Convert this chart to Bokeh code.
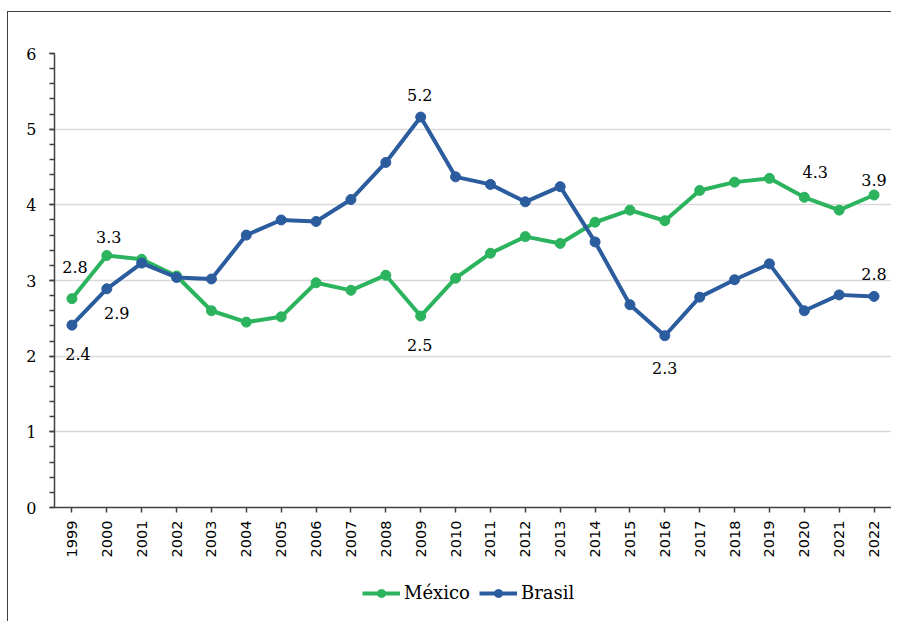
from math import pi
from bokeh.plotting import figure
from bokeh.layouts import column
from bokeh.models import (ColumnDataSource, Range1d, SingleIntervalTicker, Legend,
                          LegendItem)
from bokeh.core.properties import value
from bokeh.embed import file_html
from bokeh.resources import INLINE

# ---- data ----
years = ["1999", "2000", "2001", "2002", "2003", "2004", "2005", "2006", "2007", "2008",
         "2009", "2010", "2011", "2012", "2013", "2014", "2015", "2016", "2017", "2018",
         "2019", "2020", "2021", "2022"]
mexico = [2.76, 3.33, 3.28, 3.06, 2.60, 2.45, 2.52, 2.97, 2.87, 3.07, 2.53, 3.03,
          3.36, 3.58, 3.49, 3.77, 3.93, 3.79, 4.19, 4.30, 4.35, 4.10, 3.93, 4.13]
brasil = [2.41, 2.89, 3.23, 3.04, 3.02, 3.60, 3.80, 3.78, 4.07, 4.56, 5.16, 4.37,
          4.27, 4.04, 4.24, 3.51, 2.68, 2.27, 2.78, 3.01, 3.22, 2.60, 2.81, 2.79]

mx_label_years = ["1999", "2000", "2009", "2020", "2022"]
mx_label_text = ["2.8", "3.3", "2.5", "4.3", "3.9"]
br_label_years = ["1999", "2000", "2009", "2016", "2022"]
br_label_text = ["2.4", "2.9", "5.2", "2.3", "2.8"]

# label pixel offsets (styling)
mx_dx = [3, 2, -1, 11, 0]
mx_dy = [-32, -19, 29, -25, -15]
br_dx = [6, 10, -1, 0, 0]
br_dy = [29, 24, -22, 32, -22]

GREEN = "#2BB35E"
BLUE = "#2B5C9E"
SERIF = "DejaVu Serif"

p = figure(x_range=years, y_range=Range1d(0, 6), width=883, height=555,
           output_backend="svg", toolbar_location=None,
           min_border_left=46, min_border_right=0, min_border_top=41,
           min_border_bottom=60)
p.outline_line_color = None
p.background_fill_color = "white"
p.border_fill_color = "white"

# grid
p.xgrid.grid_line_color = None
p.ygrid.grid_line_color = "#d9d9d9"
p.ygrid.grid_line_width = 1.5

# y axis
p.yaxis.ticker = SingleIntervalTicker(interval=1, num_minor_ticks=5)
p.yaxis.axis_line_color = "#404040"
p.yaxis.axis_line_width = 1.5
p.yaxis.major_tick_line_color = "#404040"
p.yaxis.minor_tick_line_color = "#404040"
p.yaxis.major_tick_line_width = 1.5
p.yaxis.minor_tick_line_width = 1.5
p.yaxis.major_tick_in = 0
p.yaxis.major_tick_out = 5
p.yaxis.minor_tick_in = 0
p.yaxis.minor_tick_out = 5
p.yaxis.major_label_standoff = 13
p.yaxis.major_label_text_font = SERIF
p.yaxis.major_label_text_font_size = "16px"
p.yaxis.major_label_text_color = "black"

# x axis
p.xaxis.axis_line_color = "#404040"
p.xaxis.axis_line_width = 1.5
p.xaxis.major_tick_line_color = "#404040"
p.xaxis.major_tick_line_width = 1.5
p.xaxis.major_tick_in = 0
p.xaxis.major_tick_out = 5
p.xaxis.minor_tick_line_color = None
p.xaxis.major_label_orientation = pi / 2
p.xaxis.major_label_standoff = 8
p.xaxis.major_label_text_font = "DejaVu Sans"
p.xaxis.major_label_text_font_size = "14.5px"
p.xaxis.major_label_text_color = "black"

# series
mx_line = p.line(years, mexico, line_color=GREEN, line_width=4)
mx_pts = p.scatter(years, mexico, size=10, fill_color=GREEN, line_color=GREEN)
br_line = p.line(years, brasil, line_color=BLUE, line_width=4)
br_pts = p.scatter(years, brasil, size=10, fill_color=BLUE, line_color=BLUE)

# data labels
mx_lookup = dict(zip(years, mexico))
br_lookup = dict(zip(years, brasil))
lab_src = ColumnDataSource(dict(
    x=mx_label_years + br_label_years,
    y=[mx_lookup[y] for y in mx_label_years] + [br_lookup[y] for y in br_label_years],
    text=mx_label_text + br_label_text,
    dx=mx_dx + br_dx,
    dy=mx_dy + br_dy,
))
p.text(x="x", y="y", text="text", x_offset="dx", y_offset="dy", source=lab_src,
       text_align="center", text_baseline="middle", text_font=value(SERIF),
       text_font_size="16px", text_color="black")

# legend strip (separate small figure below the chart; its series lie out of view)
p2 = figure(width=883, height=54, x_range=years, y_range=Range1d(100, 101),
            output_backend="svg", toolbar_location=None,
            x_axis_type=None, y_axis_type=None,
            min_border_left=0, min_border_right=0, min_border_top=0, min_border_bottom=0)
p2.outline_line_color = None
p2.grid.grid_line_color = None
lg_mx_line = p2.line(years, mexico, line_color=GREEN, line_width=4)
lg_mx_pts = p2.scatter(years, mexico, size=10, fill_color=GREEN, line_color=GREEN)
lg_br_line = p2.line(years, brasil, line_color=BLUE, line_width=4)
lg_br_pts = p2.scatter(years, brasil, size=10, fill_color=BLUE, line_color=BLUE)
legend = Legend(items=[LegendItem(label="México", renderers=[lg_mx_line, lg_mx_pts]),
                       LegendItem(label="Brasil", renderers=[lg_br_line, lg_br_pts])],
                orientation="horizontal", location=(308, 18),
                glyph_width=38, glyph_height=20, label_height=20,
                label_standoff=4, spacing=9, padding=0, margin=0,
                label_text_font=SERIF, label_text_font_size="18px",
                label_text_color="black",
                background_fill_alpha=0, border_line_color=None)
p2.add_layout(legend)

layout = column(p, p2, spacing=0)
layout.styles = {"margin-left": "7px", "margin-top": "11px",
                 "border-left": "1.5px solid #404040", "border-top": "1.5px solid #404040"}

open("out.html", "w").write(file_html(layout, INLINE))
